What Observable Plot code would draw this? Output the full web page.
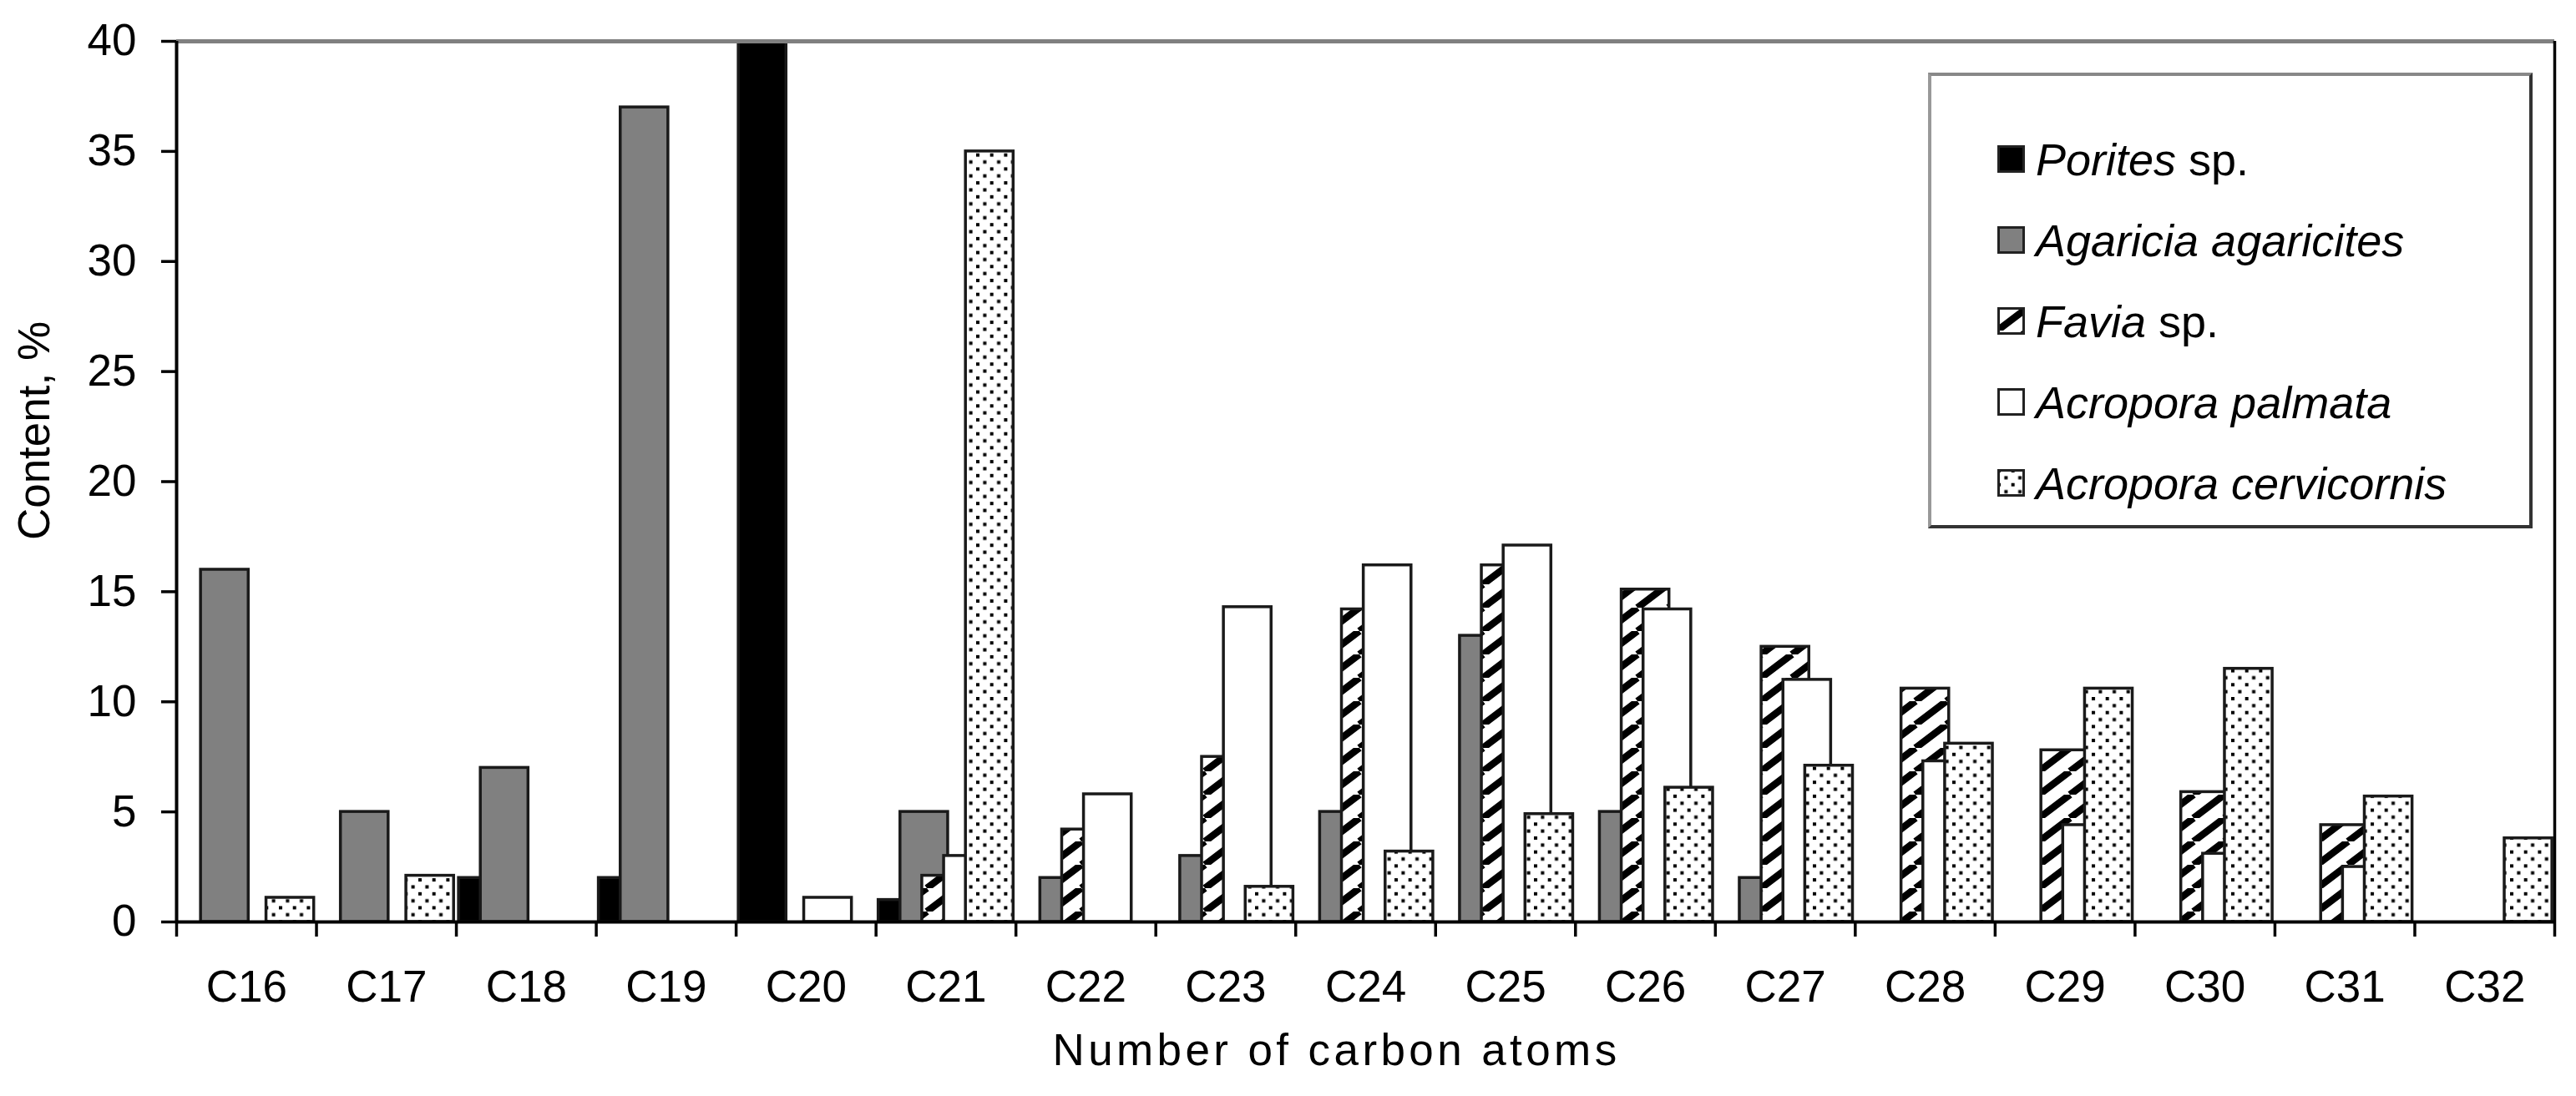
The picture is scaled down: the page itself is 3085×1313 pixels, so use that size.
<!DOCTYPE html>
<html>
<head>
<meta charset="utf-8">
<script src="https://cdn.jsdelivr.net/npm/d3@7"></script>
<script src="https://cdn.jsdelivr.net/npm/@observablehq/plot@0.6"></script>
<style>
  html, body { margin: 0; padding: 0; background: #fff; }
  #wrap { position: relative; width: 3085px; height: 1313px; font-family: "Liberation Sans", Arial, sans-serif; color: #000; }
  #legend { position: absolute; left: 2309px; top: 87px; width: 724px; height: 546px; box-sizing: border-box;
            background: #fff; border: 4px solid #333; border-top-color: #888; border-left-color: #999; }
  .row { position: absolute; left: 79px; height: 33px; display: flex; align-items: center; font-size: 54px; line-height: 1; white-space: nowrap; }
  .row svg { flex: none; margin-right: 13px; }
</style>
</head>
<body>
<svg width="0" height="0" style="position:absolute">
  <defs>
    <pattern id="hatch" patternUnits="userSpaceOnUse" width="37" height="28">
      <rect width="37" height="28" fill="#fff"/>
      <path d="M-37,28 L0,0 M0,28 L37,0 M37,28 L74,0" stroke="#000" stroke-width="8.5"/>
    </pattern>
    <pattern id="dots" patternUnits="userSpaceOnUse" width="16.7" height="16.7">
      <rect width="16.7" height="16.7" fill="#fff"/>
      <rect x="0" y="0" width="4" height="4" fill="#000"/>
      <rect x="8.35" y="8.35" width="4" height="4" fill="#000"/>
    </pattern>
  </defs>
</svg>
<div id="wrap"></div>
<script>
const categories = ["C16","C17","C18","C19","C20","C21","C22","C23","C24","C25","C26","C27","C28","C29","C30","C31","C32"];
const porites     = [null, null, 2,    2,    40,   1,    null, null, null, null, null, null, null, null, null, null, null];
const agaricia    = [16,   5,    7,    37,   null, 5,    2,    3,    5,    13,   5,    2,    null, null, null, null, null];
const favia       = [null, null, null, null, null, 2.1,  4.2,  7.5,  14.2, 16.2, 15.1, 12.5, 10.6, 7.8,  5.9,  4.4,  null];
const palmata     = [null, null, null, null, 1.1,  3,    5.8,  14.3, 16.2, 17.1, 14.2, 11,   7.3,  4.4,  3.1,  2.5,  null];
const cervicornis = [1.1,  2.1,  null, null, null, 35,   null, 1.6,  3.2,  4.9,  6.1,  7.1,  8.1,  10.6, 11.5, 5.7,  3.8];
const yTicks = [0, 5, 10, 15, 20, 25, 30, 35, 40];

const seriesHtml = ["<i>Porites</i> sp.", "<i>Agaricia agaricites</i>", "<i>Favia</i> sp.", "<i>Acropora palmata</i>", "<i>Acropora cervicornis</i>"];
const seriesValues = [porites, agaricia, favia, palmata, cervicornis];
const fills = ["#000000", "#808080", "url(#hatch)", "#ffffff", "url(#dots)"];

const rows = [];
seriesValues.forEach((vals, j) => vals.forEach((v, i) => { if (v != null) rows.push({series: j, i, value: v}); }));

// bar layout within each category band [i, i+1]: overlapping bars
const G = 0.018, S = 0.156, W = 0.341;

const barMarks = seriesValues.map((vals, j) =>
  Plot.rectY(rows.filter(r => r.series === j), {
    x1: r => r.i + G + j * S,
    x2: r => r.i + G + j * S + W,
    y1: 0,
    y2: "value",
    fill: fills[j],
    stroke: "#1a1a1a",
    strokeWidth: 3.5
  })
);

const font = "Liberation Sans, Arial, sans-serif";

const chart = Plot.plot({
  width: 3085,
  height: 1313,
  marginLeft: 211,
  marginRight: 26,
  marginTop: 49,
  marginBottom: 209,
  x: {type: "linear", domain: [0, categories.length]},
  y: {domain: [0, 40]},
  style: {fontFamily: font, fontSize: "53px", color: "#000", background: "#fff", overflow: "visible"},
  marks: [
    ...barMarks,
    Plot.ruleY([40], {stroke: "#808080", strokeWidth: 5}),
    Plot.ruleX([categories.length], {stroke: "#000", strokeWidth: 3.5}),
    Plot.ruleX([0], {stroke: "#000", strokeWidth: 4}),
    Plot.ruleY([0], {stroke: "#000", strokeWidth: 4}),
    Plot.axisY({ticks: yTicks, tickSize: 18, tickPadding: 30, strokeWidth: 3.5, fontSize: 53, label: null}),
    Plot.axisX({ticks: d3.range(0, categories.length + 1), tickSize: 18, strokeWidth: 3.5, tickFormat: () => "", label: null}),
    Plot.axisX({ticks: categories.map((c, i) => i + 0.5), tickSize: 0, tickPadding: 58, fontSize: 53,
                tickFormat: d => categories[Math.floor(d)], label: null}),
    Plot.text(["Number of carbon atoms"], {text: d => d, frameAnchor: "bottom", textAnchor: "middle", dx: -35, dy: 155,
                lineAnchor: "middle", fontSize: 53, style: "letter-spacing: 4.4px"}),
    Plot.text(["Content, %"], {text: d => d, frameAnchor: "left", textAnchor: "middle", rotate: -90, dx: -169, dy: -61,
                lineAnchor: "middle", fontSize: 53})
  ]
});

const wrap = document.getElementById("wrap");
wrap.appendChild(chart);
// letter spacing on the x-axis title text
d3.select(chart).selectAll("text").filter(function() { return this.textContent === "Number of carbon atoms"; })
  .style("letter-spacing", "4.4px");

const legend = document.createElement("div");
legend.id = "legend";
seriesHtml.forEach((html, j) => {
  const row = document.createElement("div");
  row.className = "row";
  row.style.top = (83 + 97 * j) + "px";
  row.innerHTML = `<svg width="33" height="33"><rect x="1.5" y="1.5" width="30" height="30" fill="${fills[j]}" stroke="#222" stroke-width="3"/></svg><span>${html}</span>`;
  legend.appendChild(row);
});
wrap.appendChild(legend);
</script>
</body>
</html>
